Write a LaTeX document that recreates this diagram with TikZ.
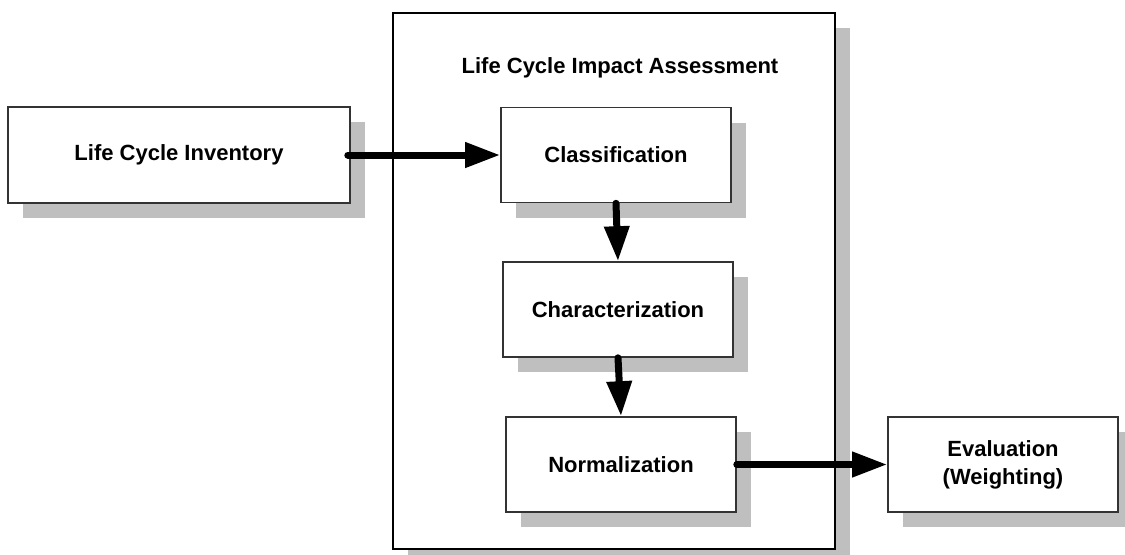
\documentclass[tikz,border=0pt]{standalone}
\usepackage{fontspec}
\setmainfont{Liberation Sans}
\usepackage{tikz}
\usetikzlibrary{positioning, calc, arrows.meta, shadows}

\begin{document}
\begin{tikzpicture}[
  x=0.5pt, y=-0.5pt,
  font=\fontsize{11}{14}\selectfont\bfseries,
  >={Triangle[length=17.5pt,width=12pt]},
  block/.style={draw=black!80, line width=0.8pt, fill=white,
    minimum width=115pt, minimum height=47.5pt, inner sep=0pt,
    align=center,
    drop shadow={shadow xshift=7.5pt, shadow yshift=-7.5pt,
      fill=black!25, opacity=1}},
  flow/.style={line width=3.5pt, line cap=round, ->},
]

% ============================================================================
% page frame (1125 x 554 px, 1 px = 0.5 pt)
% ============================================================================
\useasboundingbox (0,0) rectangle (1125,554);

% ============================================================================
% outer LCIA frame with its heading
% ============================================================================
\node[block, draw=black, minimum width=221pt, minimum height=268pt]
  (lcia) at (614,281) {};
\node (lciaTitle) at (620,68) {Life Cycle Impact Assessment};

% ============================================================================
% boxes
% ============================================================================
\node[block, minimum width=171pt, minimum height=48pt]
  (lci) at (179,155) {Life Cycle Inventory};

\node[block] (cls)  at (616,155)   {Classification};
\node[block] (char) at (618,309.5) {Characterization};
\node[block] (norm) at (621,464.5) {Normalization};
\node[block] (eval) at (1003,464.5) {Evaluation\\(Weighting)};

% ============================================================================
% arrows
% ============================================================================
\draw[flow] ($(lci.east)+(-3,0)$) -- (cls.west);
\draw[flow] (cls.south) -- (char.north);
\draw[flow] (char.south) -- (norm.north);
\draw[flow] (norm.east) -- (eval.west);

\end{tikzpicture}
\end{document}
